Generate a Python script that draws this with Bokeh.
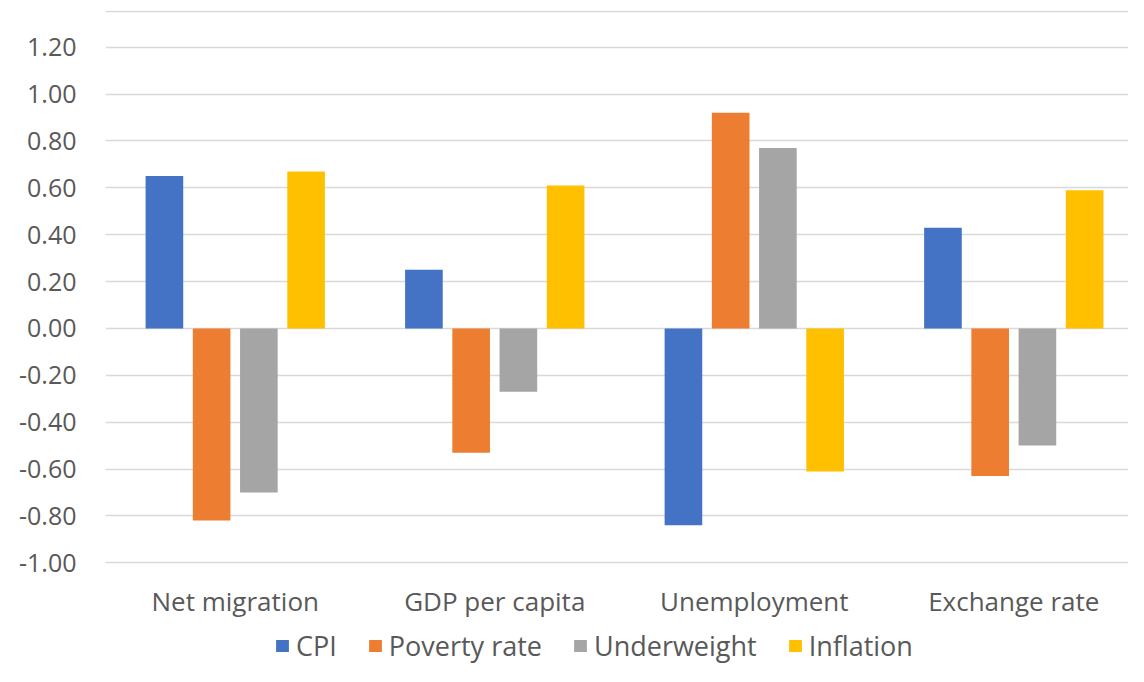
from bokeh.plotting import figure
from bokeh.models import (ColumnDataSource, Range1d, FixedTicker, NumeralTickFormatter,
                          Legend, LegendItem, Span)
from bokeh.transform import dodge
from bokeh.embed import file_html
from bokeh.resources import INLINE

categories = ["Net migration", "GDP per capita", "Unemployment", "Exchange rate"]
series_names = ["CPI", "Poverty rate", "Underweight", "Inflation"]
cpi = [0.65, 0.25, -0.84, 0.43]
poverty = [-0.82, -0.53, 0.92, -0.63]
underweight = [-0.70, -0.27, 0.77, -0.50]
inflation = [0.67, 0.61, -0.61, 0.59]
y_ticks = [-1.0, -0.8, -0.6, -0.4, -0.2, 0.0, 0.2, 0.4, 0.6, 0.8, 1.0, 1.2]

colors = ["#4472C4", "#ED7D31", "#A5A5A5", "#FFC000"]
fields = ["cpi", "poverty", "underweight", "inflation"]
offsets = [-0.273, -0.091, 0.091, 0.273]
FONT = "Open Sans"
TXT = "#595959"
Y_TOP = 1.3566
Y_BOTTOM = -1.4425

pos = list(range(1, len(categories) + 1))
src = ColumnDataSource(dict(x=pos, cpi=cpi, poverty=poverty,
                            underweight=underweight, inflation=inflation))

p = figure(width=1128, height=666,
           x_range=Range1d(0.5, 4.442), y_range=Range1d(Y_BOTTOM, Y_TOP),
           output_backend="svg", toolbar_location=None,
           min_border_left=105, min_border_right=0, min_border_top=10,
           min_border_bottom=0)
p.outline_line_color = None
p.background_fill_color = "white"
p.border_fill_color = "white"

renderers = []
for f, c, off in zip(fields, colors, offsets):
    r = p.vbar(x=dodge("x", off), top=f, bottom=0, width=0.145, source=src,
               fill_color=c, line_color=None)
    renderers.append(r)

# x axis drawn inside the plot area, just under the lowest gridline
p.xaxis.fixed_location = -1.05
p.xaxis.ticker = FixedTicker(ticks=pos)
p.xaxis.major_label_overrides = {i: c for i, c in zip(pos, categories)}
p.xaxis.axis_line_color = None
p.xaxis.major_tick_line_color = None
p.xaxis.minor_tick_line_color = None
p.xaxis.major_label_standoff = 2
p.xaxis.major_label_text_font = FONT
p.xaxis.major_label_text_font_size = "26px"
p.xaxis.major_label_text_color = TXT

p.yaxis.ticker = FixedTicker(ticks=y_ticks)
p.yaxis.formatter = NumeralTickFormatter(format="0.00")
p.yaxis.axis_line_color = None
p.yaxis.major_tick_line_color = None
p.yaxis.minor_tick_line_color = None
p.yaxis.major_label_standoff = 23
p.yaxis.major_label_text_font = FONT
p.yaxis.major_label_text_font_size = "25px"
p.yaxis.major_label_text_color = TXT

p.xgrid.grid_line_color = None
p.ygrid.ticker = FixedTicker(ticks=y_ticks)
p.ygrid.grid_line_color = "#d9d9d9"
p.ygrid.grid_line_width = 1.5

p.add_layout(Span(location=Y_TOP - 0.004, dimension="width", line_color="#d9d9d9", line_width=1.5))

legend = Legend(items=[LegendItem(label=n, renderers=[r]) for n, r in zip(series_names, renderers)],
                orientation="horizontal", location=(169, 2),
                label_text_font=FONT, label_text_font_size="27px", label_text_color=TXT,
                glyph_width=16, glyph_height=15, label_standoff=6, spacing=30,
                border_line_color=None, background_fill_alpha=0, padding=0, margin=0)
p.add_layout(legend, "center")

open("out.html", "w").write(file_html(p, INLINE))
